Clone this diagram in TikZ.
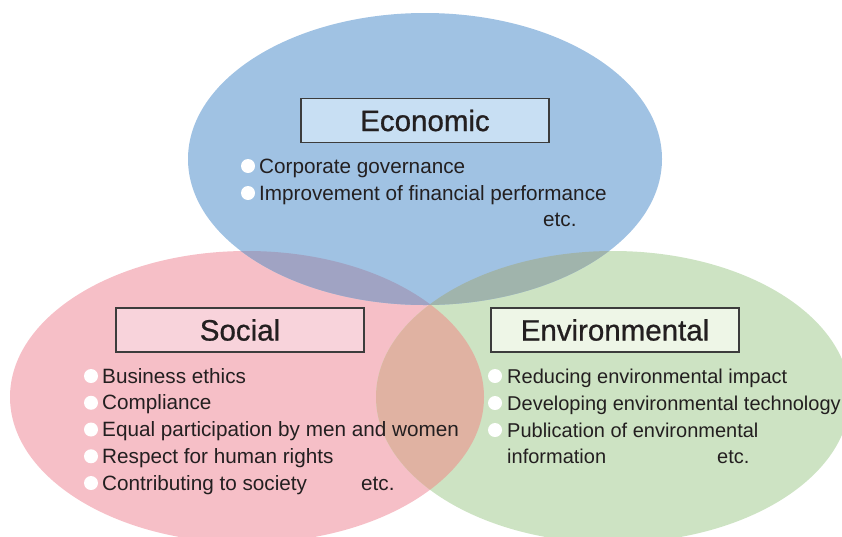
\documentclass[tikz,border=0pt]{standalone}
\usepackage{fontspec}
\setmainfont{Liberation Sans}
\newfontfamily\titlefont[FakeBold=0.8]{Liberation Sans}
\definecolor{ecoblue}{HTML}{A0C2E3}
\definecolor{socpink}{HTML}{F6BFC7}
\definecolor{envgreen}{HTML}{CDE3C3}
\definecolor{bluepink}{HTML}{A0A3C3}
\definecolor{bluegreen}{HTML}{A0B4AC}
\definecolor{pinkgreen}{HTML}{E0B2A2}
\definecolor{ecobox}{HTML}{C8DFF3}
\definecolor{socbox}{HTML}{F8D3DB}
\definecolor{envbox}{HTML}{EEF6E7}
\definecolor{boxline}{HTML}{3C3C3C}
\definecolor{ink}{HTML}{231F20}

\begin{document}
\begin{tikzpicture}[x=1pt,y=-1pt,
  title/.style={draw=boxline,line width=1.2pt,minimum width=248pt,minimum height=44pt,
    inner sep=0pt,text=ink,font=\titlefont\fontsize{29.5}{35}\selectfont},
  item/.style={anchor=base west,inner sep=0pt,text=ink,font=\fontsize{20.7}{27}\selectfont},
  oval/.style={x radius=237pt,y radius=146pt}]
  \clip (0,0) rectangle (842,536);
  \coordinate (ecoc) at (425,159);
  \coordinate (socc) at (247,397);
  \coordinate (envc) at (613,397);

  \fill[socpink] (socc) ellipse [oval];
  \fill[envgreen] (envc) ellipse [oval];
  \fill[ecoblue] (ecoc) ellipse [oval];
  \begin{scope}
    \clip (socc) ellipse [oval];
    \fill[pinkgreen] (envc) ellipse [oval];
  \end{scope}
  \begin{scope}
    \clip (ecoc) ellipse [oval];
    \fill[bluepink] (socc) ellipse [oval];
    \fill[bluegreen] (envc) ellipse [oval];
  \end{scope}

  \node[title,fill=ecobox] (econ) at (425,120.5) {Economic};
  \node[title,fill=socbox] (social) at (240,330) {Social};
  \node[title,fill=envbox] (env) at (615,330) {Environmental};

  \foreach \txt [count=\i] in {Corporate governance,Improvement of financial performance} {
    \node[item] (eco\i) at (259,{173+27*(\i-1)}) {\txt};
    \fill[white] ([xshift=-11pt,yshift=7pt]eco\i.base west) circle (7pt);
  }
  \node[item] (ecoetc) at (543,226) {etc.};

  \foreach \txt [count=\i] in {Business ethics,Compliance,Equal participation by men and women,
      Respect for human rights,Contributing to society} {
    \node[item] (soc\i) at (102,{383+26.75*(\i-1)}) {\txt};
    \fill[white] ([xshift=-11pt,yshift=7pt]soc\i.base west) circle (7pt);
  }
  \node[item] (socetc) at (361,490) {etc.};

  \foreach \txt [count=\i] in {Reducing environmental impact,Developing environmental technology,
      Publication of environmental} {
    \node[item,font=\fontsize{20}{27}\selectfont] (env\i) at (507,{383+27*(\i-1)}) {\txt};
    \fill[white] ([xshift=-12pt,yshift=7pt]env\i.base west) circle (7pt);
  }
  \node[item,font=\fontsize{20}{27}\selectfont] (env4) at (507,463) {information};
  \node[item,font=\fontsize{20}{27}\selectfont] (envetc) at (717,463) {etc.};
\end{tikzpicture}
\end{document}
